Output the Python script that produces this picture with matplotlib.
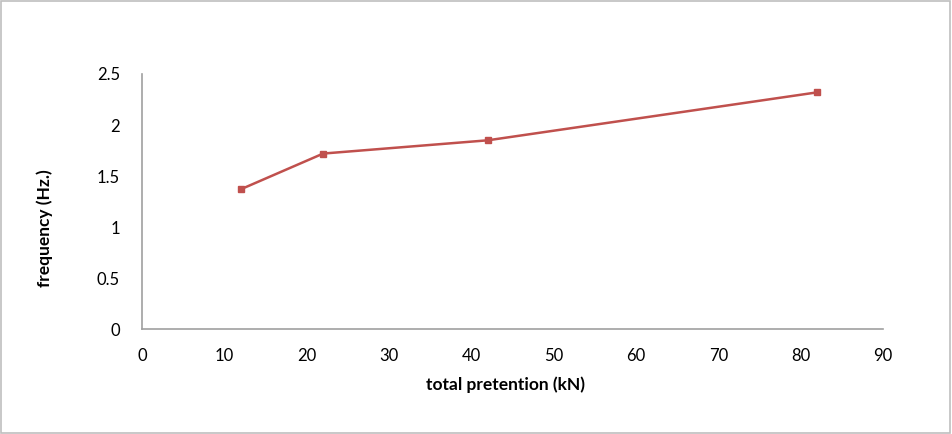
import matplotlib
matplotlib.use("Agg")
import matplotlib.pyplot as plt
from matplotlib.patches import Rectangle

# data
pretention = [12, 22, 42, 82]
frequency = [1.37, 1.72, 1.85, 2.32]
xticks = [0, 10, 20, 30, 40, 50, 60, 70, 80, 90]
yticks = [0, 0.5, 1, 1.5, 2, 2.5]
ytick_labels = ["0", "0.5", "1", "1.5", "2", "2.5"]

plt.rcParams['font.family'] = ['Lato', 'DejaVu Sans']

fig = plt.figure(figsize=(9.52, 4.34), dpi=100)
ax = fig.add_axes([0.1492, 0.2419, 0.7783, 0.5876])

ax.plot(pretention, frequency, color='#c0504d', linewidth=1.8,
        marker='s', markersize=5)

ax.set_xlim(0, 90)
ax.set_ylim(0, 2.5)
ax.set_xticks(xticks)
ax.set_yticks(yticks)
ax.set_yticklabels(ytick_labels)

for s in ['top', 'right']:
    ax.spines[s].set_visible(False)
for s in ['left', 'bottom']:
    ax.spines[s].set_color('#a0a0a0')
    ax.spines[s].set_linewidth(1.2)
ax.tick_params(length=0, labelsize=12, colors='black', pad=14)
ax.tick_params(axis='y', pad=16)

ax.set_xlabel('total pretention (kN)', fontsize=12.5, fontweight='bold')
ax.set_ylabel('frequency (Hz.)', fontsize=12.5, fontweight='bold')
ax.xaxis.set_label_coords(0.49, -0.22)
ax.yaxis.set_label_coords(-0.131, 0.396)
ax.xaxis.label.set_va('center')
ax.yaxis.label.set_va('center')

# light frame around the whole chart
fig.patches.append(Rectangle((0.001, 0.002), 0.997, 0.995, transform=fig.transFigure,
                             fill=False, edgecolor='#bfbfbf', linewidth=1.2))

fig.savefig('out.png', dpi=100)
